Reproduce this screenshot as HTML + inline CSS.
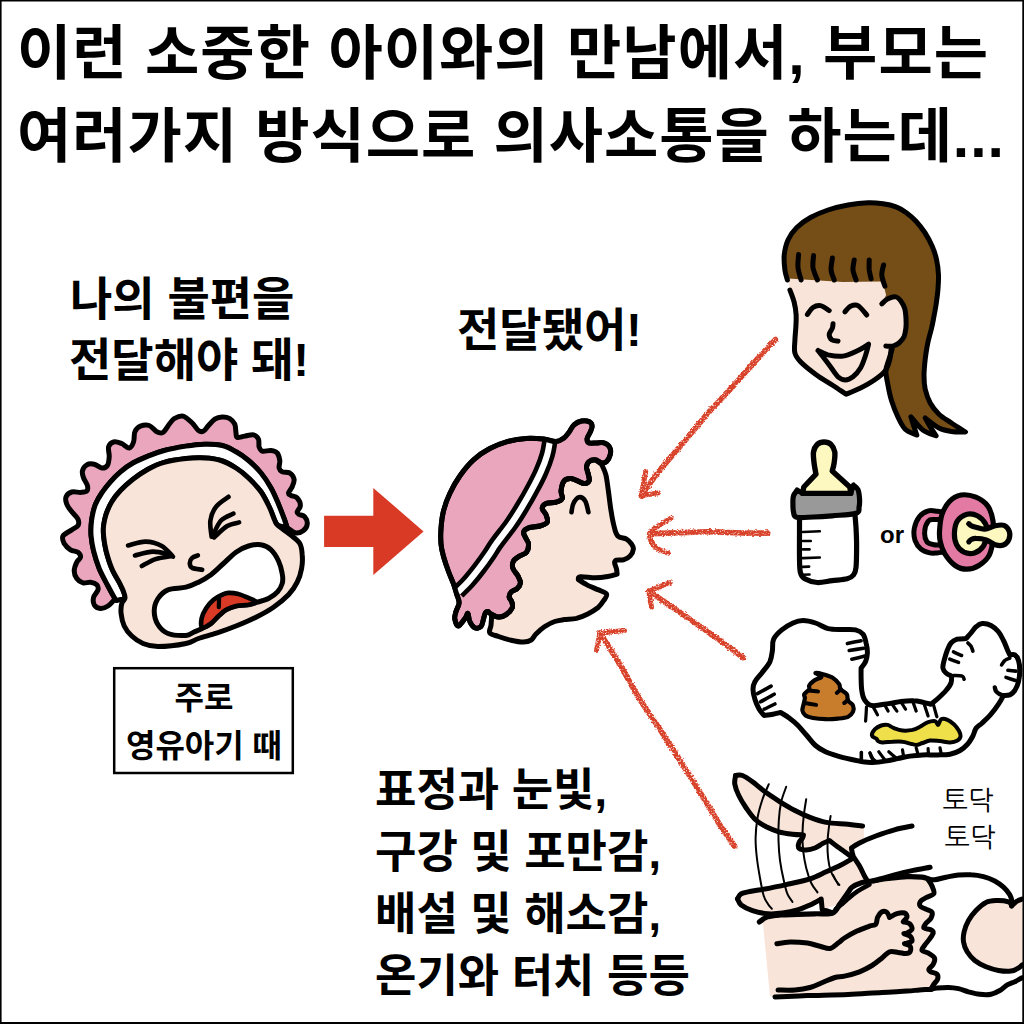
<!DOCTYPE html>
<html><head><meta charset="utf-8"><title>comic</title>
<style>html,body{margin:0;padding:0;background:#fff;overflow:hidden;width:1024px;height:1024px;font-family:"Liberation Sans",sans-serif}svg{display:block}</style>
</head><body>
<svg width="1024" height="1024" viewBox="0 0 1024 1024">
<title>이런 소중한 아이와의 만남에서, 부모는 여러가지 방식으로 의사소통을 하는데...</title><desc>나의 불편을 전달해야 돼! / 전달됐어! / 주로 영유아기 때 / 표정과 눈빛, 구강 및 포만감, 배설 및 해소감, 온기와 터치 등등 / or / 토닥 토닥</desc>
<rect width="1024" height="1024" fill="#fff"/>
<path d="M0 0H1024V1024H0Z M1.6 1.6V1022H1022.3V1.6Z" fill="#000" fill-rule="evenodd"/>
<rect x="114.2" y="668.2" width="178.6" height="104.8" fill="#fff" stroke="#000" stroke-width="2.5"/>
<path d="M114.2 599.8C113.2 600.8 110.3 604.5 108 606C105.7 607.5 102.8 608.7 100.5 608.5C98.2 608.3 95.4 606.6 94.2 604.8C93.1 602.9 93 599.8 93.6 597.2C94.2 594.8 97.5 591.8 98 589.8C98.5 587.7 98 586 96.8 584.8C95.5 583.5 92.8 582.6 90.5 582.2C88.2 581.9 85.3 583.5 83 582.9C80.7 582.2 78.2 580.5 76.8 578.5C75.3 576.5 74.2 573.7 74.2 571C74.2 568.3 75.7 564.5 76.8 562.2C77.8 560 80.3 558.9 80.5 557.2C80.7 555.6 79.7 553.5 78 552.2C76.3 551 72.8 551.2 70.5 549.8C68.2 548.3 65.5 545.8 64.2 543.5C63 541.2 61.8 538.3 63 536C64.2 533.7 69.2 531.6 71.8 529.9C74.2 528.1 77 527.3 78 525.5C79 523.7 79 521.5 78 519.2C77 517 73.6 514.2 71.8 511.8C69.9 509.2 67.7 506.8 66.8 504.2C65.8 501.8 65.3 498.8 66.1 496.8C67 494.7 69.4 492.7 71.8 492C74.1 491.3 78 492.5 80.5 492.4C83 492.2 85.6 492.3 86.8 491.1C87.9 490 87.9 487.7 87.4 485.5C86.9 483.3 84.5 480.4 83.6 478C82.8 475.6 81.9 473.3 82.4 471.1C82.9 468.9 84.8 466 86.8 464.9C88.7 463.7 91.8 463.7 94.2 464.2C96.8 464.8 99.6 467.8 101.8 468C103.9 468.2 106.1 467.4 107.4 465.5C108.6 463.6 109 459.9 109.2 456.8C109.5 453.6 107.8 449.2 108.6 446.8C109.5 444.2 112.1 442.3 114.2 441.8C116.4 441.2 119.2 442.6 121.8 443.6C124.2 444.7 127.3 448.3 129.2 448C131.2 447.7 132.7 444.5 133.6 441.8C134.6 439 133.7 434.4 134.9 431.8C136 429.1 138.1 427.2 140.5 426.1C142.9 425.1 146.5 424.6 149.2 425.5C152 426.4 154.5 430.6 156.8 431.8C159 432.9 160.9 433.6 163 432.4C165.1 431.1 167.4 426.5 169.2 424.2C171.1 422 172 420 174.2 418.6C176.5 417.3 180 415.4 183 416.1C186 416.9 189.7 420.6 192.2 423C194.8 425.4 196.6 429.1 198.5 430.5C200.4 431.9 201.8 432 203.5 431.1C205.2 430.3 206.6 427.5 208.5 425.5C210.4 423.5 212.5 420.7 214.8 419.2C217 417.8 219.8 417.1 222.2 417C224.8 416.9 227.7 417.4 229.8 418.6C231.8 419.8 233.7 421.9 234.8 424.2C235.8 426.6 235.6 430.8 236 433C236.4 435.2 235.8 436.9 237.2 437.4C238.7 437.9 242 436.5 244.8 436.1C247.5 435.7 251.2 434.4 253.5 434.9C255.8 435.4 257.6 437.3 258.5 439.2C259.4 441.2 258.5 444.8 259.1 446.8C259.8 448.7 260.3 450.5 262.2 451.1C264.2 451.8 268.5 450.2 271 450.5C273.5 450.8 275.8 451.3 277.2 453C278.7 454.7 279.4 458 279.8 460.5C280.1 463 278.7 466.1 279.1 468C279.5 469.9 280.5 470.9 282.2 471.8C284 472.6 287.8 471.8 289.8 473C291.7 474.2 293.7 477 294.1 479.2C294.5 481.5 293.2 484.5 292.2 486.8C291.3 489 288.7 491.5 288.5 493C288.3 494.5 289.5 494.7 291 495.5C292.5 496.3 295.7 496.3 297.2 498C298.8 499.7 300.4 503.2 300.4 505.5C300.4 507.8 297.6 510.3 297.2 511.8C296.9 513.2 297.2 513.4 298.5 514.2C299.8 515.1 303.3 515.1 304.8 516.8C306.2 518.4 307.5 522 307.2 524.2C307 526.5 305.4 529 303.5 530.5C301.6 532 298.5 533.3 296 533C293.5 532.7 289.8 529.4 288.5 528.6L287.2 528C286.8 526.8 286.2 524.5 284.8 520.5C283.3 516.5 280.8 509.7 278.5 504.2C276.2 498.8 273.9 493.2 271 488C268.1 482.8 264.8 477.6 261 473C257.2 468.4 252.7 464 248.5 460.5C244.3 457 240.4 454.2 236 451.8C231.6 449.2 227.5 446.8 222.2 445.5C217 444.2 210.8 444.1 204.8 444.2C198.7 444.4 192.8 445.1 186 446.1C179.2 447.2 170.6 448.8 164.2 450.5C157.9 452.2 153.2 454 148 456.1C142.8 458.2 137.6 460.4 133 463C128.4 465.6 124.2 468.6 120.5 471.8C116.8 474.9 113.6 478.2 110.5 481.8C107.4 485.3 104.2 489.2 101.8 493C99.2 496.8 97.1 500.5 95.5 504.2C93.9 508 93.1 512 92.4 515.5C91.6 519 91.3 522.1 91.1 525.5C90.9 528.9 90.7 531.8 91.1 536C91.5 540.2 92.3 545.6 93.6 551C95 556.4 96.9 562.7 99.2 568.5C101.6 574.3 105.5 581.2 108 586C110.5 590.8 112.8 594.9 114.2 597.2C115.7 599.6 116.3 599.9 116.8 600.4Z" fill="#eaa6bd" stroke="#000" stroke-width="5" stroke-linecap="round" stroke-linejoin="round"/>
<path d="M116.8 600.4C116.3 599.9 115.7 599.6 114.2 597.2C112.8 594.9 110.5 590.8 108 586C105.5 581.2 101.6 574.3 99.2 568.5C96.9 562.7 95 556.4 93.6 551C92.3 545.6 91.5 540.2 91.1 536C90.7 531.8 90.9 528.9 91.1 525.5C91.3 522.1 91.6 519 92.4 515.5C93.1 512 93.9 508 95.5 504.2C97.1 500.5 99.2 496.8 101.8 493C104.2 489.2 107.4 485.3 110.5 481.8C113.6 478.2 116.8 474.9 120.5 471.8C124.2 468.6 128.4 465.6 133 463C137.6 460.4 142.8 458.2 148 456.1C153.2 454 157.9 452.2 164.2 450.5C170.6 448.8 179.2 447.2 186 446.1C192.8 445.1 198.7 444.4 204.8 444.2C210.8 444.1 217 444.2 222.2 445.5C227.5 446.8 231.6 449.2 236 451.8C240.4 454.2 244.3 457 248.5 460.5C252.7 464 257.2 468.4 261 473C264.8 477.6 268.1 482.8 271 488C273.9 493.2 276.2 498.8 278.5 504.2C280.8 509.7 283.3 516.5 284.8 520.5C286.2 524.5 286.8 526.8 287.2 528L277.9 525.5C277.4 524.7 276.1 523.4 274.8 520.5C273.4 517.6 272 512.8 269.8 508C267.5 503.2 264.5 496.8 261 491.8C257.5 486.8 252.7 482 248.5 478C244.3 474 240.6 470.9 236 468C231.4 465.1 226.2 462.2 221 460.5C215.8 458.8 210.6 458.3 204.8 458C198.9 457.7 192.8 457.9 186 458.6C179.2 459.4 170.6 460.6 164.2 462.4C157.9 464.1 153.2 466.4 148 469.2C142.8 472.1 137.6 475.7 133 479.2C128.4 482.8 124 486.8 120.5 490.5C117 494.2 114.1 497.8 111.8 501.8C109.4 505.7 107.5 510.3 106.1 514.2C104.8 518.2 104 521.9 103.6 525.5C103.2 529.1 103.2 531.8 103.6 536C104 540.2 104.8 545.6 106.1 551C107.5 556.4 109.4 562.9 111.8 568.5C114.1 574.1 118.4 580.6 120.5 584.8C122.6 588.9 123.5 591.2 124.2 593.5C125 595.8 124.8 597.7 124.9 598.5Z" fill="#fff" stroke="#000" stroke-width="5" stroke-linecap="round" stroke-linejoin="round"/>
<path d="M124.9 598.5C125.3 596.8 125 595.8 124.2 593.5C123.5 591.2 122.6 588.9 120.5 584.8C118.4 580.6 114.1 574.1 111.8 568.5C109.4 562.9 107.5 556.4 106.1 551C104.8 545.6 104 540.2 103.6 536C103.2 531.8 103.2 529.1 103.6 525.5C104 521.9 104.8 518.2 106.1 514.2C107.5 510.3 109.4 505.7 111.8 501.8C114.1 497.8 117 494.2 120.5 490.5C124 486.8 128.4 482.8 133 479.2C137.6 475.7 142.8 472.1 148 469.2C153.2 466.4 157.9 464.1 164.2 462.4C170.6 460.6 179.2 459.4 186 458.6C192.8 457.9 198.9 457.7 204.8 458C210.6 458.3 215.8 458.8 221 460.5C226.2 462.2 231.4 465.1 236 468C240.6 470.9 244.3 474 248.5 478C252.7 482 257.5 486.8 261 491.8C264.5 496.8 267.5 503.2 269.8 508C272 512.8 273.4 517.6 274.8 520.5C276.1 523.4 275.4 523.2 277.9 525.5C280.4 527.8 286.1 531.2 289.8 534.2C293.4 537.2 297.7 540.1 299.8 543.5C301.8 546.9 301.9 550.6 302.2 554.8C302.6 558.9 302.5 563.9 301.6 568.5C300.8 573.1 299.4 577.9 297.2 582.2C295.1 586.6 292.5 590.6 288.5 594.8C284.5 598.9 278.9 603.5 273.5 607.2C268.1 611 262.2 614.1 256 617.2C249.8 620.4 242.5 623.4 236 626C229.5 628.6 223.5 630.8 217.2 632.9C211 635 203.7 636.7 198.5 638.5C193.3 640.3 192.8 642.1 186 643.5C179.2 644.9 165.2 646.6 158 646.6C150.8 646.6 147.4 645.3 143 643.5C138.6 641.7 134.9 638.9 131.8 636C128.6 633.1 126 629.8 124.2 626C122.5 622.2 121.5 617.2 121.1 613.5C120.7 609.8 121.1 606 121.8 603.5C122.4 601 124.5 600.2 124.9 598.5Z" fill="#f9e4d9" stroke="#000" stroke-width="5" stroke-linecap="round" stroke-linejoin="round"/>
<path d="M168 589.8C172.7 587.9 180.9 588.5 186 587.2C191.1 586 194.3 584.3 198.5 582.2C202.7 580.2 206.8 577.9 211 574.8C215.2 571.6 219.3 567.2 223.5 563.5C227.7 559.8 231.8 555.2 236 552.2C240.2 549.3 244.3 547.2 248.5 546C252.7 544.8 257.2 544.1 261 544.8C264.8 545.4 268.1 547 271 549.8C273.9 552.5 276.6 557 278.5 561C280.4 565 281.6 569.8 282.2 573.5C282.9 577.2 283.1 580.4 282.2 583.5C281.4 586.6 279.5 589.8 277.2 592.2C275 594.8 271.8 596.8 268.5 598.5C265.2 600.2 260.6 601.2 257.2 602.2C253.9 603.3 252 604.1 248.5 604.8C245 605.4 239.8 605.2 236 606C232.2 606.8 228.9 608.1 226 609.8C223.1 611.4 221 613.7 218.5 616C216 618.3 213.7 621.4 211 623.5C208.3 625.6 205.2 627 202.2 628.5C199.3 630 196.2 631.1 193.5 632.2C190.8 633.4 190.2 635.2 186 635.4C181.8 635.6 172.7 635.3 168 633.5C163.3 631.7 160.3 628.5 158 624.8C155.7 621 154.2 615.4 154.2 611C154.2 606.6 155.7 602 158 598.5C160.3 595 163.3 591.6 168 589.8Z" fill="#fff" stroke="#000" stroke-width="5" stroke-linecap="round" stroke-linejoin="round"/>
<path d="M202.2 627.2C200.7 626.4 201 621.6 201.6 618.5C202.2 615.4 204 611.6 206 608.5C208 605.4 210.8 602 213.5 599.8C216.2 597.5 219.8 595.9 222.2 594.8C224.8 593.6 225.8 593 228.5 592.9C231.2 592.8 235.2 593.3 238.5 594.1C241.8 595 245.5 596.6 248.5 597.9C251.5 599.2 256.6 600.9 256.6 602C256.6 603.1 251.9 604.1 248.5 604.8C245.1 605.4 239.8 605.2 236 606C232.2 606.8 228.9 608.1 226 609.8C223.1 611.4 221 613.7 218.5 616C216 618.3 213.7 621.6 211 623.5C208.3 625.4 203.8 628.1 202.2 627.2Z" fill="#d93a26" stroke="#000" stroke-width="4.6" stroke-linecap="round" stroke-linejoin="round"/>
<path d="M219.1 597.2C219.1 598.9 218.8 605.6 218.8 607.2" fill="none" stroke="#000" stroke-width="4.2" stroke-linecap="round" stroke-linejoin="round"/>
<path d="M197.9 555.4C196.9 555.8 193.6 556.6 192.2 557.9C190.9 559.1 189.8 561.2 189.8 562.9C189.8 564.5 190.2 566.7 192.2 567.9C194.3 569 200.6 569.4 202.2 569.8" fill="none" stroke="#000" stroke-width="4.6" stroke-linecap="round" stroke-linejoin="round"/>
<path d="M228.5 496.8C226.4 498.4 219 502.8 216 506.8C213 510.7 211.1 515.5 210.4 520.5C209.6 525.5 211.4 534 211.6 536.8" fill="none" stroke="#000" stroke-width="4.6" stroke-linecap="round" stroke-linejoin="round"/>
<path d="M233.5 513.6C231.4 514.8 224.4 516.9 221 520.5C217.6 524.1 214.2 533 212.9 535.5" fill="none" stroke="#000" stroke-width="4.6" stroke-linecap="round" stroke-linejoin="round"/>
<path d="M239.1 522.4C237.1 523 231.4 523.6 227.2 526.1C223.1 528.6 216.3 535.5 214.1 537.4" fill="none" stroke="#000" stroke-width="4.6" stroke-linecap="round" stroke-linejoin="round"/>
<path d="M128 545.4C130.9 544.8 139.9 541.5 145.5 541.6C151.1 541.7 157.2 543.5 161.8 546C166.3 548.5 171.1 554.9 173 556.6" fill="none" stroke="#000" stroke-width="4.6" stroke-linecap="round" stroke-linejoin="round"/>
<path d="M134.9 555.4C137.9 554.8 147.2 551.8 153 551.6C158.8 551.5 167.1 554 169.9 554.5" fill="none" stroke="#000" stroke-width="4.6" stroke-linecap="round" stroke-linejoin="round"/>
<path d="M141.8 566C144 564.9 150.5 560.8 155.5 559.1C160.5 557.5 169 556.5 171.8 556" fill="none" stroke="#000" stroke-width="4.6" stroke-linecap="round" stroke-linejoin="round"/>
<path d="M324.1 515.8H373.3V488L423.6 531.4L373.3 575.1V547H324.1Z" fill="#d93a26"/>
<path d="M491 614C492.2 614.5 496 617 498.5 617.1C501 617.2 503.7 616.2 506 614.6C508.3 613.1 511.3 609.9 512.2 607.8C513.2 605.6 512.1 603.3 511.6 601.5C511.1 599.7 509.2 598.7 509.1 597.1C509 595.6 509.6 593.6 511 592.1C512.4 590.7 515.7 589.9 517.2 588.4C518.8 586.8 520.3 584.8 520.4 582.8C520.5 580.7 519.1 578.3 517.9 575.9C516.6 573.5 513.6 570.9 512.9 568.4C512.1 565.9 512.4 563 513.5 560.9C514.6 558.8 517.6 557.3 519.8 555.9C521.9 554.4 525.2 554.1 526.6 552.1C528.1 550.1 528.6 546.3 528.5 544C528.4 541.7 526.8 540.5 526 538.5C525.2 536.5 523.1 534 523.5 532.2C523.9 530.5 525.8 528.9 528.5 527.9C531.2 526.8 536.6 526.9 539.8 526C542.9 525.1 546.2 524.1 547.2 522.2C548.3 520.4 546.8 517 546 514.8C545.2 512.5 542.2 510.4 542.2 508.5C542.2 506.6 543.7 504.5 546 503.5C548.3 502.5 553.3 503.1 556 502.2C558.7 501.4 561.4 500.4 562.2 498.5C563.1 496.6 560.7 493.9 561 491C561.3 488.1 562.5 483.1 564 481C565.5 478.9 568.2 478.6 570.2 478.5C572.3 478.4 574.2 479.5 576.5 480.4C578.8 481.2 581.9 483.4 584 483.5C586.1 483.6 588.3 482.5 589 481C589.7 479.5 588.8 477 588.4 474.8C588 472.5 586.4 469.4 586.5 467.2C586.6 465.1 587.5 462.9 589 461.6C590.5 460.4 594.2 460.1 595.2 459.8L601.5 464.1C602.2 465.9 604.7 470.3 605.9 474.8C607 479.2 607.5 485.2 608.4 491C609.2 496.8 609.9 503.9 610.9 509.8C611.8 515.6 612.9 521.6 614 526C615.1 530.4 615.7 533.8 617.8 536C619.8 538.2 624.2 537.8 626.5 539.1C628.8 540.5 630.4 542.4 631.5 544C632.6 545.6 633.6 547 633.4 549C633.2 551 631.8 554.1 630.2 555.9C628.7 557.6 626.3 558.9 624 559.6C621.7 560.4 618.1 559.7 616.5 560.2C614.9 560.8 614.6 561.3 614.6 562.8C614.6 564.2 616.1 567.1 616.5 569C616.9 570.9 617 573.2 617.1 574L617.1 574C615.6 574.4 611.4 575.9 607.8 576.5C604.1 577.1 599.8 577.7 595.2 577.8C590.7 577.8 583.1 576.4 580.2 576.8C577.4 577.1 578.7 579.1 578.4 579.6L578.4 579.6C579.7 580.5 583.3 583 586.5 584.6C589.7 586.3 594.4 588.1 597.8 589.6C601.1 591.2 605.5 592.2 606.5 594C607.5 595.8 605.5 598 604 600.2C602.5 602.5 600.5 605.5 597.8 607.8C595 610 591.3 612.2 587.8 614C584.2 615.8 580.5 617.4 576.5 618.4C572.5 619.3 567.6 619.1 564 619.6C560.4 620.1 558 620.4 554.8 621.5C551.5 622.6 547.9 624.4 544.8 626.5C541.6 628.6 538.3 631.7 536 634C533.7 636.3 533.1 638.9 531 640.2C528.9 641.6 526.8 642.1 523.5 642.1C520.2 642.1 515.2 641.2 511 640.2C506.8 639.3 502 637.8 498.5 636.5C495 635.2 491 634.6 489.8 632.8C488.5 630.9 490.7 628 491 625.2C491.3 622.5 491.5 618 491.6 616.5Z" fill="#f9e4d9" stroke="#000" stroke-width="5" stroke-linecap="round" stroke-linejoin="round"/>
<path d="M459.1 602.8C459.2 599.8 457.6 597.1 456.6 594C455.7 590.9 454.9 587.8 453.5 584C452.1 580.2 450.2 576.1 448.5 571.5C446.8 566.9 444.8 561.1 443.5 556.5C442.2 551.9 441.4 548.7 441 544C440.6 539.3 440.6 534 441 528.5C441.4 523 442 516.8 443.5 511C445 505.2 447 499.3 449.8 493.5C452.5 487.7 455.8 481.6 459.8 476C463.7 470.4 468.5 464.3 473.5 459.8C478.5 455.2 484.1 451.5 489.8 448.5C495.4 445.5 501.2 443.3 507.2 441.6C513.3 440 520 438.9 526 438.5C532 438.1 538.5 438.6 543.5 439.1C548.5 439.6 552.6 441.8 556 441.6C559.4 441.4 561.8 439.4 564 437.9C566.2 436.3 567.3 434.4 569 432.2C570.7 430.1 571.9 426.6 574 424.8C576.1 422.9 579 421.5 581.5 421C584 420.5 587.2 420.8 589 421.6C590.8 422.5 591.9 424.2 592.1 426C592.3 427.8 591.1 430.2 590.2 432.2C589.4 434.3 587.3 436.7 587.1 438.5C586.9 440.3 587.4 442.1 589 442.9C590.6 443.6 594 442.9 596.5 442.9C599 442.9 601.8 442.1 604 442.9C606.2 443.6 608.6 445.3 609.6 447.2C610.7 449.2 610.8 452.4 610.2 454.8C609.7 457.1 608 460.3 606.5 461.6C605 463 603.4 463.2 601.5 462.9C599.6 462.6 597.3 460 595.2 459.8C593.2 459.5 590.5 460.4 589 461.6C587.5 462.9 586.6 465.1 586.5 467.2C586.4 469.4 588 472.5 588.4 474.8C588.8 477 589.7 479.5 589 481C588.3 482.5 586.1 483.6 584 483.5C581.9 483.4 578.8 481.2 576.5 480.4C574.2 479.5 572.3 478.4 570.2 478.5C568.2 478.6 565.5 478.9 564 481C562.5 483.1 561.3 488.1 561 491C560.7 493.9 563.1 496.6 562.2 498.5C561.4 500.4 558.7 501.4 556 502.2C553.3 503.1 548.3 502.5 546 503.5C543.7 504.5 542.2 506.6 542.2 508.5C542.2 510.4 545.2 512.5 546 514.8C546.8 517 548.3 520.4 547.2 522.2C546.2 524.1 542.9 525.1 539.8 526C536.6 526.9 531.2 526.8 528.5 527.9C525.8 528.9 523.9 530.5 523.5 532.2C523.1 534 525.2 536.5 526 538.5C526.8 540.5 528.4 541.7 528.5 544C528.6 546.3 528.1 550.1 526.6 552.1C525.2 554.1 521.9 554.4 519.8 555.9C517.6 557.3 514.6 558.8 513.5 560.9C512.4 563 512.1 565.9 512.9 568.4C513.6 570.9 516.6 573.5 517.9 575.9C519.1 578.3 520.5 580.7 520.4 582.8C520.3 584.8 518.8 586.8 517.2 588.4C515.7 589.9 512.4 590.7 511 592.1C509.6 593.6 509 595.6 509.1 597.1C509.2 598.7 511.1 599.7 511.6 601.5C512.1 603.3 513.2 605.6 512.2 607.8C511.3 609.9 508.3 613.1 506 614.6C503.7 616.2 501 617.2 498.5 617.1C496 617 492.8 614.9 491 614C489.2 613.1 488.8 611.7 487.9 611.5C486.9 611.3 486.1 611.5 485.4 612.8C484.6 614 484.2 616.7 483.5 619C482.8 621.3 482.5 625 481 626.5C479.5 628 476.6 628.6 474.8 627.8C472.9 626.9 470.9 623.9 469.8 621.5C468.6 619.1 468.6 614 467.9 613.4C467.1 612.8 466.9 615.7 465.4 617.8C463.8 619.8 460.3 625.7 458.5 625.9C456.7 626.1 455.2 621.4 454.8 619C454.3 616.6 455.3 614.2 456 611.5C456.7 608.8 459 605.7 459.1 602.8Z" fill="#eaa6bd" stroke="#000" stroke-width="5" stroke-linecap="round" stroke-linejoin="round"/>
<clipPath id="hc"><path d="M459.1 602.8C459.2 599.8 457.6 597.1 456.6 594C455.7 590.9 454.9 587.8 453.5 584C452.1 580.2 450.2 576.1 448.5 571.5C446.8 566.9 444.8 561.1 443.5 556.5C442.2 551.9 441.4 548.7 441 544C440.6 539.3 440.6 534 441 528.5C441.4 523 442 516.8 443.5 511C445 505.2 447 499.3 449.8 493.5C452.5 487.7 455.8 481.6 459.8 476C463.7 470.4 468.5 464.3 473.5 459.8C478.5 455.2 484.1 451.5 489.8 448.5C495.4 445.5 501.2 443.3 507.2 441.6C513.3 440 520 438.9 526 438.5C532 438.1 538.5 438.6 543.5 439.1C548.5 439.6 552.6 441.8 556 441.6C559.4 441.4 561.8 439.4 564 437.9C566.2 436.3 567.3 434.4 569 432.2C570.7 430.1 571.9 426.6 574 424.8C576.1 422.9 579 421.5 581.5 421C584 420.5 587.2 420.8 589 421.6C590.8 422.5 591.9 424.2 592.1 426C592.3 427.8 591.1 430.2 590.2 432.2C589.4 434.3 587.3 436.7 587.1 438.5C586.9 440.3 587.4 442.1 589 442.9C590.6 443.6 594 442.9 596.5 442.9C599 442.9 601.8 442.1 604 442.9C606.2 443.6 608.6 445.3 609.6 447.2C610.7 449.2 610.8 452.4 610.2 454.8C609.7 457.1 608 460.3 606.5 461.6C605 463 603.4 463.2 601.5 462.9C599.6 462.6 597.3 460 595.2 459.8C593.2 459.5 590.5 460.4 589 461.6C587.5 462.9 586.6 465.1 586.5 467.2C586.4 469.4 588 472.5 588.4 474.8C588.8 477 589.7 479.5 589 481C588.3 482.5 586.1 483.6 584 483.5C581.9 483.4 578.8 481.2 576.5 480.4C574.2 479.5 572.3 478.4 570.2 478.5C568.2 478.6 565.5 478.9 564 481C562.5 483.1 561.3 488.1 561 491C560.7 493.9 563.1 496.6 562.2 498.5C561.4 500.4 558.7 501.4 556 502.2C553.3 503.1 548.3 502.5 546 503.5C543.7 504.5 542.2 506.6 542.2 508.5C542.2 510.4 545.2 512.5 546 514.8C546.8 517 548.3 520.4 547.2 522.2C546.2 524.1 542.9 525.1 539.8 526C536.6 526.9 531.2 526.8 528.5 527.9C525.8 528.9 523.9 530.5 523.5 532.2C523.1 534 525.2 536.5 526 538.5C526.8 540.5 528.4 541.7 528.5 544C528.6 546.3 528.1 550.1 526.6 552.1C525.2 554.1 521.9 554.4 519.8 555.9C517.6 557.3 514.6 558.8 513.5 560.9C512.4 563 512.1 565.9 512.9 568.4C513.6 570.9 516.6 573.5 517.9 575.9C519.1 578.3 520.5 580.7 520.4 582.8C520.3 584.8 518.8 586.8 517.2 588.4C515.7 589.9 512.4 590.7 511 592.1C509.6 593.6 509 595.6 509.1 597.1C509.2 598.7 511.1 599.7 511.6 601.5C512.1 603.3 513.2 605.6 512.2 607.8C511.3 609.9 508.3 613.1 506 614.6C503.7 616.2 501 617.2 498.5 617.1C496 617 492.8 614.9 491 614C489.2 613.1 488.8 611.7 487.9 611.5C486.9 611.3 486.1 611.5 485.4 612.8C484.6 614 484.2 616.7 483.5 619C482.8 621.3 482.5 625 481 626.5C479.5 628 476.6 628.6 474.8 627.8C472.9 626.9 470.9 623.9 469.8 621.5C468.6 619.1 468.6 614 467.9 613.4C467.1 612.8 466.9 615.7 465.4 617.8C463.8 619.8 460.3 625.7 458.5 625.9C456.7 626.1 455.2 621.4 454.8 619C454.3 616.6 455.3 614.2 456 611.5C456.7 608.8 459 605.7 459.1 602.8Z"/></clipPath>
<g clip-path="url(#hc)"><path d="M549.8 441.6C549.3 443.8 548.7 449.8 547.2 454.8C545.8 459.8 543.5 465.9 541 471.6C538.5 477.4 535.4 483.3 532.2 489.1C529.1 495 525.8 500.8 522.2 506.6C518.7 512.5 515.4 517.9 511 524.1C506.6 530.4 499.6 538.9 496 544C492.4 549.1 491.9 550.6 489.1 554.6C486.3 558.7 482.6 563.9 479.1 568.4C475.7 572.9 472 577.5 468.5 581.5C465 585.5 459.6 590.4 457.9 592.1" fill="none" stroke="#000" stroke-width="15.4"/><path d="M549.8 441.6C549.3 443.8 548.7 449.8 547.2 454.8C545.8 459.8 543.5 465.9 541 471.6C538.5 477.4 535.4 483.3 532.2 489.1C529.1 495 525.8 500.8 522.2 506.6C518.7 512.5 515.4 517.9 511 524.1C506.6 530.4 499.6 538.9 496 544C492.4 549.1 491.9 550.6 489.1 554.6C486.3 558.7 482.6 563.9 479.1 568.4C475.7 572.9 472 577.5 468.5 581.5C465 585.5 459.6 590.4 457.9 592.1" fill="none" stroke="#fff" stroke-width="6.2"/></g>
<path d="M459.1 602.8C459.2 599.8 457.6 597.1 456.6 594C455.7 590.9 454.9 587.8 453.5 584C452.1 580.2 450.2 576.1 448.5 571.5C446.8 566.9 444.8 561.1 443.5 556.5C442.2 551.9 441.4 548.7 441 544C440.6 539.3 440.6 534 441 528.5C441.4 523 442 516.8 443.5 511C445 505.2 447 499.3 449.8 493.5C452.5 487.7 455.8 481.6 459.8 476C463.7 470.4 468.5 464.3 473.5 459.8C478.5 455.2 484.1 451.5 489.8 448.5C495.4 445.5 501.2 443.3 507.2 441.6C513.3 440 520 438.9 526 438.5C532 438.1 538.5 438.6 543.5 439.1C548.5 439.6 552.6 441.8 556 441.6C559.4 441.4 561.8 439.4 564 437.9C566.2 436.3 567.3 434.4 569 432.2C570.7 430.1 571.9 426.6 574 424.8C576.1 422.9 579 421.5 581.5 421C584 420.5 587.2 420.8 589 421.6C590.8 422.5 591.9 424.2 592.1 426C592.3 427.8 591.1 430.2 590.2 432.2C589.4 434.3 587.3 436.7 587.1 438.5C586.9 440.3 587.4 442.1 589 442.9C590.6 443.6 594 442.9 596.5 442.9C599 442.9 601.8 442.1 604 442.9C606.2 443.6 608.6 445.3 609.6 447.2C610.7 449.2 610.8 452.4 610.2 454.8C609.7 457.1 608 460.3 606.5 461.6C605 463 603.4 463.2 601.5 462.9C599.6 462.6 597.3 460 595.2 459.8C593.2 459.5 590.5 460.4 589 461.6C587.5 462.9 586.6 465.1 586.5 467.2C586.4 469.4 588 472.5 588.4 474.8C588.8 477 589.7 479.5 589 481C588.3 482.5 586.1 483.6 584 483.5C581.9 483.4 578.8 481.2 576.5 480.4C574.2 479.5 572.3 478.4 570.2 478.5C568.2 478.6 565.5 478.9 564 481C562.5 483.1 561.3 488.1 561 491C560.7 493.9 563.1 496.6 562.2 498.5C561.4 500.4 558.7 501.4 556 502.2C553.3 503.1 548.3 502.5 546 503.5C543.7 504.5 542.2 506.6 542.2 508.5C542.2 510.4 545.2 512.5 546 514.8C546.8 517 548.3 520.4 547.2 522.2C546.2 524.1 542.9 525.1 539.8 526C536.6 526.9 531.2 526.8 528.5 527.9C525.8 528.9 523.9 530.5 523.5 532.2C523.1 534 525.2 536.5 526 538.5C526.8 540.5 528.4 541.7 528.5 544C528.6 546.3 528.1 550.1 526.6 552.1C525.2 554.1 521.9 554.4 519.8 555.9C517.6 557.3 514.6 558.8 513.5 560.9C512.4 563 512.1 565.9 512.9 568.4C513.6 570.9 516.6 573.5 517.9 575.9C519.1 578.3 520.5 580.7 520.4 582.8C520.3 584.8 518.8 586.8 517.2 588.4C515.7 589.9 512.4 590.7 511 592.1C509.6 593.6 509 595.6 509.1 597.1C509.2 598.7 511.1 599.7 511.6 601.5C512.1 603.3 513.2 605.6 512.2 607.8C511.3 609.9 508.3 613.1 506 614.6C503.7 616.2 501 617.2 498.5 617.1C496 617 492.8 614.9 491 614C489.2 613.1 488.8 611.7 487.9 611.5C486.9 611.3 486.1 611.5 485.4 612.8C484.6 614 484.2 616.7 483.5 619C482.8 621.3 482.5 625 481 626.5C479.5 628 476.6 628.6 474.8 627.8C472.9 626.9 470.9 623.9 469.8 621.5C468.6 619.1 468.6 614 467.9 613.4C467.1 612.8 466.9 615.7 465.4 617.8C463.8 619.8 460.3 625.7 458.5 625.9C456.7 626.1 455.2 621.4 454.8 619C454.3 616.6 455.3 614.2 456 611.5C456.7 608.8 459 605.7 459.1 602.8Z" fill="none" stroke="#000" stroke-width="5" stroke-linecap="round" stroke-linejoin="round"/>
<path d="M571.5 512.2C571.8 510.8 572.1 506 573.4 503.5C574.6 501 577 497.7 579 497.2C581 496.8 583.7 498.5 585.2 501C586.8 503.5 587.9 510.4 588.4 512.2" fill="none" stroke="#000" stroke-width="4.6" stroke-linecap="round" stroke-linejoin="round"/>
<filter id="cr" filterUnits="userSpaceOnUse" x="580" y="320" width="220" height="540"><feTurbulence type="fractalNoise" baseFrequency="0.55 0.75" numOctaves="2" seed="7" result="n"/><feDisplacementMap in="SourceGraphic" in2="n" scale="3.4" xChannelSelector="R" yChannelSelector="G" result="d"/><feColorMatrix in="n" type="matrix" values="0 0 0 0 0  0 0 0 0 0  0 0 0 0 0  0 0 0 -3.4 2.9" result="m"/><feComposite in="d" in2="m" operator="in"/></filter>
<g filter="url(#cr)">
<path d="M775.5 339.5C772.6 342.6 764.8 350.6 758 358.1C751.1 365.6 743 375.1 734.5 384.5C726.1 393.8 716 404.1 707.2 414.1C698.4 424.1 689.9 434.8 681.8 444.4C673.7 454 665.1 463.4 658.4 472C651.6 480.5 644 491.8 641.2 495.8" fill="none" stroke="#d9432a" stroke-width="5.6" stroke-linecap="round" stroke-linejoin="round"/>
<path d="M645.7 471.4L641.2 495.8L658.4 492.9" fill="none" stroke="#d9432a" stroke-width="5.0" stroke-linecap="round" stroke-linejoin="round"/>
<path d="M767.7 533.1C762.5 533.1 746.6 533 736.5 532.7C726.4 532.5 717 531.8 707.2 531.8C697.4 531.8 687.5 532.4 677.9 532.7C668.3 533.1 654.3 533.5 649.6 533.7" fill="none" stroke="#d9432a" stroke-width="5.6" stroke-linecap="round" stroke-linejoin="round"/>
<path d="M671.1 518.1C668.9 519.4 661.9 523.3 658.4 525.9C654.8 528.5 650.2 530.3 649.6 533.7C648.9 537.1 651.4 543.2 654.5 546.4C657.5 549.7 665.8 552.1 668.1 553.2" fill="none" stroke="#d9432a" stroke-width="5.0" stroke-linecap="round" stroke-linejoin="round"/>
<path d="M743.3 657.7C739.6 655 728.5 646.7 720.9 641.1C713.2 635.6 705.6 630.2 697.4 624.5C689.3 618.8 680.2 612.5 672 607C663.9 601.4 652.5 593.9 648.6 591.3" fill="none" stroke="#d9432a" stroke-width="5.6" stroke-linecap="round" stroke-linejoin="round"/>
<path d="M670.1 582.5L648.6 591.3L651.5 607" fill="none" stroke="#d9432a" stroke-width="5.0" stroke-linecap="round" stroke-linejoin="round"/>
<path d="M734.7 846.3C732.4 842.9 725.4 833.6 720.7 826.3C716 819.1 712.9 813 706.6 802.9C700.4 792.7 691 777.7 683.2 765.4C675.3 753.1 667.1 740.4 659.7 729C652.3 717.7 645.3 708.1 638.6 697.4C632 686.6 626.3 675.3 619.9 664.5C613.4 653.8 603.3 638.2 599.9 632.9" fill="none" stroke="#d9432a" stroke-width="5.6" stroke-linecap="round" stroke-linejoin="round"/>
<path d="M624.5 630.6L599.9 632.9L596.4 650.5" fill="none" stroke="#d9432a" stroke-width="5.0" stroke-linecap="round" stroke-linejoin="round"/>
</g>
<path d="M787.4 280C787 278.3 785.4 274.2 784.9 270C784.4 265.8 783.7 260 784.2 255C784.8 250 785.9 244.6 788 240C790.1 235.4 793 231.2 796.8 227.5C800.5 223.8 805.3 220.4 810.5 217.5C815.7 214.6 821.8 212.1 828 210C834.2 207.9 841.3 206.2 848 205C854.7 203.8 862.2 203 868 202.8C873.8 202.5 878.3 203.1 883 203.8C887.7 204.4 892.2 205.4 896 206.9C899.8 208.3 902.7 210.1 906 212.5C909.3 214.9 912.9 217.9 916 221.2C919.1 224.6 922 228.3 924.8 232.5C927.5 236.7 930.3 241.7 932.2 246.2C934.2 250.8 935.6 255.2 936.6 260C937.7 264.8 938.3 270 938.5 275C938.7 280 938.3 285 937.9 290C937.5 295 936.7 300.2 936 305C935.3 309.8 934.2 314.9 933.5 318.8C932.8 322.6 932.6 324 931.6 328C930.7 332 928.8 337.8 927.8 343C926.7 348.2 925.9 353.8 925.2 359.2C924.6 364.7 924 370.5 924 375.5C924 380.5 924.2 384.7 925.2 389.2C926.3 393.8 928 398.8 930.2 403C932.5 407.2 935.5 410.9 939 414.2C942.5 417.6 947.1 420 951.5 423C955.9 426 963.2 430.5 965.5 432C963.2 431.9 955.9 432.2 951.5 431.5C947.1 430.8 943.4 430.2 939 428C934.6 425.8 927.5 419.7 925.2 418C926.1 419.5 928.4 423.8 930.2 426.8C932.1 429.7 935.1 434.2 936.1 435.8C933.9 434.8 927 433 922.8 429.9C918.5 426.7 912.9 418.9 910.9 416.8C911.4 418.4 913 423.7 914 426.8C915 429.8 916.3 433.7 916.8 435.1C914.8 434.1 908.4 432.3 905.2 429.2C902.1 426.2 900 421.5 897.8 416.8C895.5 412 893.2 405.9 891.5 400.5C889.8 395.1 888.7 389.2 887.8 384.2C886.8 379.2 885.7 374.7 885.9 370.5C886.1 366.3 888 362.8 889 359.2C890 355.7 891.6 350.9 892.1 349.2Z" fill="#744d17" stroke="none" stroke-width="5" stroke-linecap="round" stroke-linejoin="round"/>
<path d="M843 281.9L788 278.5L789.9 290C790.6 292.1 793.2 298.3 794.2 302.5C795.3 306.7 795.9 310.8 796.1 315C796.4 319.2 796 323.8 795.8 328C795.5 332.2 795 336.3 794.9 340.5C794.7 344.7 793.9 349.5 794.9 353C795.8 356.5 797.1 358.2 800.5 361.8C803.9 365.3 810.1 370.3 815.5 374.2C820.9 378.2 827.9 382.2 833 385.5C838.1 388.8 843.9 392.8 846.1 394.2C848.5 393.2 855.6 390.5 860.5 388C865.4 385.5 871.3 382.2 875.5 379.2C879.7 376.3 883.1 373.8 885.5 370.5C887.9 367.2 888.9 362.8 889.9 359.2C890.8 355.7 890.9 350.9 891.1 349.2L885.9 346.1C887 346.1 890.6 346.6 892.8 346.1C894.9 345.6 897.1 344.6 899 343C900.9 341.4 902.9 339.2 904 336.8C905.1 334.2 905.5 331 905.9 328C906.2 325 906.2 322 906 318.8C905.8 315.5 905.6 311.7 904.8 308.8C903.9 305.8 902.5 303.2 901 301.2C899.5 299.3 898.2 297.3 896 296.9C893.8 296.5 890.4 297.6 888 298.8C885.6 299.9 882.8 302.9 881.8 303.8L886.1 295L884.2 287.5L880.5 281.5Z" fill="#f9e4d9" stroke="none" stroke-width="5" stroke-linecap="round" stroke-linejoin="round"/>
<path d="M787.4 280C787 278.3 785.4 274.2 784.9 270C784.4 265.8 783.7 260 784.2 255C784.8 250 785.9 244.6 788 240C790.1 235.4 793 231.2 796.8 227.5C800.5 223.8 805.3 220.4 810.5 217.5C815.7 214.6 821.8 212.1 828 210C834.2 207.9 841.3 206.2 848 205C854.7 203.8 862.2 203 868 202.8C873.8 202.5 878.3 203.1 883 203.8C887.7 204.4 892.2 205.4 896 206.9C899.8 208.3 902.7 210.1 906 212.5C909.3 214.9 912.9 217.9 916 221.2C919.1 224.6 922 228.3 924.8 232.5C927.5 236.7 930.3 241.7 932.2 246.2C934.2 250.8 935.6 255.2 936.6 260C937.7 264.8 938.3 270 938.5 275C938.7 280 938.3 285 937.9 290C937.5 295 936.7 300.2 936 305C935.3 309.8 934.2 314.9 933.5 318.8C932.8 322.6 932.6 324 931.6 328C930.7 332 928.8 337.8 927.8 343C926.7 348.2 925.9 353.8 925.2 359.2C924.6 364.7 924 370.5 924 375.5C924 380.5 924.2 384.7 925.2 389.2C926.3 393.8 928 398.8 930.2 403C932.5 407.2 935.5 410.9 939 414.2C942.5 417.6 947.1 420 951.5 423C955.9 426 963.2 430.5 965.5 432C963.2 431.9 955.9 432.2 951.5 431.5C947.1 430.8 943.4 430.2 939 428C934.6 425.8 927.5 419.7 925.2 418C926.1 419.5 928.4 423.8 930.2 426.8C932.1 429.7 935.1 434.2 936.1 435.8C933.9 434.8 927 433 922.8 429.9C918.5 426.7 912.9 418.9 910.9 416.8C911.4 418.4 913 423.7 914 426.8C915 429.8 916.3 433.7 916.8 435.1C914.8 434.1 908.4 432.3 905.2 429.2C902.1 426.2 900 421.5 897.8 416.8C895.5 412 893.2 405.9 891.5 400.5C889.8 395.1 888.7 389.2 887.8 384.2C886.8 379.2 885.7 374.7 885.9 370.5C886.1 366.3 888 362.8 889 359.2C890 355.7 891.6 350.9 892.1 349.2" fill="none" stroke="#000" stroke-width="5" stroke-linecap="round" stroke-linejoin="round"/>
<path d="M789.9 290C790.6 292.1 793.2 298.3 794.2 302.5C795.3 306.7 795.9 310.8 796.1 315C796.4 319.2 796 323.8 795.8 328C795.5 332.2 795 336.3 794.9 340.5C794.7 344.7 793.9 349.5 794.9 353C795.8 356.5 797.1 358.2 800.5 361.8C803.9 365.3 810.1 370.3 815.5 374.2C820.9 378.2 827.9 382.2 833 385.5C838.1 388.8 843.9 392.8 846.1 394.2C848.5 393.2 855.6 390.5 860.5 388C865.4 385.5 871.3 382.2 875.5 379.2C879.7 376.3 883.1 373.8 885.5 370.5C887.9 367.2 888.9 362.8 889.9 359.2C890.8 355.7 890.9 350.9 891.1 349.2" fill="none" stroke="#000" stroke-width="5" stroke-linecap="round" stroke-linejoin="round"/>
<path d="M885.9 346.1C887 346.1 890.6 346.6 892.8 346.1C894.9 345.6 897.1 344.6 899 343C900.9 341.4 902.9 339.2 904 336.8C905.1 334.2 905.5 331 905.9 328C906.2 325 906.2 322 906 318.8C905.8 315.5 905.6 311.7 904.8 308.8C903.9 305.8 902.5 303.2 901 301.2C899.5 299.3 898.2 297.3 896 296.9C893.8 296.5 890.4 297.6 888 298.8C885.6 299.9 882.8 302.9 881.8 303.8" fill="none" stroke="#000" stroke-width="5" stroke-linecap="round" stroke-linejoin="round"/>
<path d="M798.6 254.4C798.5 256.6 797.6 263.2 798 267.5C798.4 271.8 800.6 277.9 801.1 280" fill="none" stroke="#000" stroke-width="5" stroke-linecap="round" stroke-linejoin="round"/>
<path d="M813.6 255.6C813.5 257.6 812.4 263.4 813 267.5C813.6 271.6 816.6 277.9 817.4 280" fill="none" stroke="#000" stroke-width="5" stroke-linecap="round" stroke-linejoin="round"/>
<path d="M832.4 258.1C832.2 260.1 830.8 266.4 831.1 270C831.4 273.6 833.7 278.3 834.2 280" fill="none" stroke="#000" stroke-width="5" stroke-linecap="round" stroke-linejoin="round"/>
<path d="M854.2 260C854 261.7 852.7 266.7 853 270C853.3 273.3 855.6 278.3 856.1 280" fill="none" stroke="#000" stroke-width="5" stroke-linecap="round" stroke-linejoin="round"/>
<path d="M869.2 260C869.2 261.7 868.9 266.9 869.2 270C869.6 273.1 870.8 277.3 871.1 278.8" fill="none" stroke="#000" stroke-width="5" stroke-linecap="round" stroke-linejoin="round"/>
<path d="M883.6 265C883.3 266.7 881.5 271.5 881.8 275C882 278.5 884.4 284.4 884.9 286.2" fill="none" stroke="#000" stroke-width="5" stroke-linecap="round" stroke-linejoin="round"/>
<path d="M807.4 314.4C808.3 313.2 810.8 309 813 307.5C815.2 306 817.8 305.1 820.5 305.6C823.2 306.1 827.8 309.8 829.2 310.6" fill="none" stroke="#000" stroke-width="5" stroke-linecap="round" stroke-linejoin="round"/>
<path d="M844.9 311.9C845.8 310.9 848.3 307.3 850.5 306.2C852.7 305.2 855.3 304.2 858 305.6C860.7 307.1 865.3 313.4 866.8 315" fill="none" stroke="#000" stroke-width="5" stroke-linecap="round" stroke-linejoin="round"/>
<path d="M833 323.8C832.9 324.5 833 326.2 832.4 328C831.8 329.8 829.4 332.3 829.2 334.2C829.1 336.2 830.3 338.7 831.8 339.9C833.2 341 837 340.9 838 341.1" fill="none" stroke="#000" stroke-width="5" stroke-linecap="round" stroke-linejoin="round"/>
<path d="M818 350.5C819.7 351.2 823.8 353.9 828 354.9C832.2 355.8 838 356.9 843 356.1C848 355.4 853.7 352.5 858 350.5C862.3 348.5 866.9 345.3 868.6 344.2C868.1 346.1 866.9 351.5 865.5 355.5C864.1 359.5 862.6 364.5 860.5 368C858.4 371.5 855.5 374.8 853 376.8C850.5 378.7 848 379.9 845.5 379.9C843 379.9 840.5 378.9 838 376.8C835.5 374.6 833 370.1 830.5 366.8C828 363.4 825.1 359.5 823 356.8C820.9 354 818.8 351.5 818 350.5" fill="none" stroke="#000" stroke-width="5" stroke-linecap="round" stroke-linejoin="round"/>
<path d="M799.5 514.5C799.5 517.5 799.5 525.3 799.5 532.5C799.5 539.7 799.4 550.8 799.5 557.5C799.6 564.2 799.5 569 800.4 572.5C801.2 576 801.9 577.1 804.8 578.8C807.6 580.4 812.7 582.2 817.2 582.5C821.8 582.8 827.2 581.2 832.2 580.6C837.2 580 843.7 579.7 847.2 578.8C850.8 577.8 852 576.9 853.5 575C855 573.1 855.5 572.5 856 567.5C856.5 562.5 856.6 551.7 856.6 545C856.6 538.3 856.3 532.8 856 527.5C855.7 522.2 855 515.6 854.8 513.2" fill="#fff" stroke="#000" stroke-width="5.2" stroke-linecap="round" stroke-linejoin="round"/>
<path d="M802.9 532L819.8 531.2" fill="none" stroke="#000" stroke-width="2.6" stroke-linecap="round" stroke-linejoin="round"/>
<path d="M802.9 541L810.8 541" fill="none" stroke="#000" stroke-width="2.6" stroke-linecap="round" stroke-linejoin="round"/>
<path d="M802.9 549.4L809.5 549.4" fill="none" stroke="#000" stroke-width="2.6" stroke-linecap="round" stroke-linejoin="round"/>
<path d="M802.9 558.1L819.8 557.5" fill="none" stroke="#000" stroke-width="2.6" stroke-linecap="round" stroke-linejoin="round"/>
<path d="M802.9 566.9L809.1 566.6" fill="none" stroke="#000" stroke-width="2.6" stroke-linecap="round" stroke-linejoin="round"/>
<path d="M802.9 574.8L809.5 574.5" fill="none" stroke="#000" stroke-width="2.6" stroke-linecap="round" stroke-linejoin="round"/>
<path d="M797.2 490.1C796.6 491.1 794.2 493.6 793.5 495.8C792.8 497.9 792.9 500.5 792.9 503.2C792.9 506 792.9 509.7 793.5 512C794.1 514.3 793.3 516.4 796.6 517.2C800 518.1 807.6 517.2 813.5 517C819.4 516.8 825.2 516.4 832.2 515.8C839.3 515.1 851.5 514.7 856 513.2C860.5 511.8 858.5 509.5 859.1 507C859.7 504.5 859.7 501.2 859.5 498.2C859.3 495.3 858.9 491.7 857.9 489.5C856.9 487.3 854.2 485.9 853.5 485.1L850.6 493.4L802.6 493.4Z" fill="#999999" stroke="#000" stroke-width="5.2" stroke-linecap="round" stroke-linejoin="round"/>
<path d="M802.6 493.4L803.8 487L816 474.2C815.7 472.4 814.5 467 814.1 463.2C813.7 459.5 813 455.1 813.5 452C814 448.9 815.5 446.2 817.2 444.5C819 442.8 821.8 442 824.1 442C826.4 442 829.2 442.8 831 444.5C832.8 446.2 834.2 448.9 834.8 452C835.3 455.1 834.5 460.1 834.1 463.2C833.7 466.4 832.6 469.7 832.2 471L832.2 471L849.8 487L850.9 493.4Z" fill="#fdf8bf" stroke="#000" stroke-width="5.4" stroke-linecap="round" stroke-linejoin="round"/>
<text x="892" y="543" font-size="24" font-weight="700" fill="#000" text-anchor="middle" font-family="&quot;Liberation Sans&quot;, sans-serif">or</text>
<path d="M943.3 512.1C942.3 512 939.8 511.5 937.3 511.3C934.8 511.1 931.4 510 928.4 510.9C925.4 511.8 921.9 513.6 919.5 516.5C917.2 519.5 915 524.4 914.3 528.4C913.6 532.4 913.9 536.8 915 540.3C916.2 543.7 918.5 547.1 921 549.2C923.5 551.3 927.2 552.3 929.9 552.9C932.6 553.5 935.1 553 937.3 552.9C939.5 552.8 942.3 552.3 943.3 552.2L941.8 544.7C940.5 544.7 936.8 545.2 934.3 544.7C931.9 544.2 928.5 544 926.9 541.8C925.3 539.5 924.4 534.8 924.7 531.4C924.9 527.9 926.8 523 928.4 521C930 519 932.1 519.7 934.3 519.5C936.6 519.3 940.5 519.5 941.8 519.5Z" fill="#e37aa4" stroke="#000" stroke-width="5" stroke-linecap="round" stroke-linejoin="round"/>
<path d="M939.5 531.4C939.8 526.9 940.2 520 941.8 515C943.4 510.1 946 505 949.2 501.7C952.4 498.3 956.6 495.8 961.1 495C965.5 494.3 971.5 495.4 975.9 497.2C980.4 499.1 984.9 502.2 987.8 506.1C990.6 510.1 992.1 515.5 993 521C993.8 526.4 993.6 533.1 993 538.8C992.4 544.5 991.6 550.7 989.3 555.1C986.9 559.6 982.6 563.2 978.9 565.5C975.2 567.9 971 569.2 967 569.2C963 569.2 958.8 568.1 955.1 565.5C951.4 562.9 947.2 557.6 944.7 553.6C942.3 549.7 941.1 545.5 940.3 541.8C939.4 538.1 939.3 535.8 939.5 531.4Z" fill="#e37aa4" stroke="#000" stroke-width="5.2" stroke-linecap="round" stroke-linejoin="round"/>
<path d="M954.4 533.6C954.5 529.6 955.2 524.2 957.4 521C959.5 517.8 963.7 515.2 967 514.3C970.3 513.4 974.3 514.2 977.4 515.8C980.5 517.4 983.9 520.9 985.6 524C987.2 527 987.4 530.6 987 534.3C986.7 538.1 985.4 543.1 983.3 546.2C981.2 549.3 977.6 551.9 974.4 552.9C971.2 553.9 967 553.5 964 552.2C961.1 550.8 958.2 547.8 956.6 544.7C955 541.6 954.3 537.6 954.4 533.6Z" fill="#fdf8bf" stroke="#000" stroke-width="5.2" stroke-linecap="round" stroke-linejoin="round"/>
<path d="M975.9 527.2C977.4 527.5 981.6 529.4 984.8 529.1C988 528.9 992 526.4 995.2 525.7C998.4 525.1 1001.8 524.5 1004.1 525.4C1006.5 526.4 1008.5 529 1009.3 531.4C1010.1 533.7 1009.8 537.3 1008.9 539.5C1007.9 541.8 1005.6 544.2 1003.4 545C1001.1 545.9 998 545.6 995.2 544.7C992.4 543.9 989.5 541 986.3 540C983.1 538.9 977.6 538.6 975.9 538.4Z" fill="#fdf8bf" stroke="none" stroke-width="5" stroke-linecap="round" stroke-linejoin="round"/>
<path d="M968.8 523.7C969.2 524 970 525.1 971.2 525.7C972.3 526.3 973.6 526.7 975.9 527.2C978.2 527.8 981.6 529.4 984.8 529.1C988 528.9 992 526.4 995.2 525.7C998.4 525.1 1001.8 524.5 1004.1 525.4C1006.5 526.4 1008.5 529 1009.3 531.4C1010.1 533.7 1009.8 537.3 1008.9 539.5C1007.9 541.8 1005.6 544.2 1003.4 545C1001.1 545.9 998 545.6 995.2 544.7C992.4 543.9 989.5 541 986.3 540C983.1 538.9 978.4 538.4 975.9 538.4C973.4 538.3 972.3 539 971.2 539.5C970 540.1 969.2 541.4 968.8 541.8" fill="none" stroke="#000" stroke-width="5.2" stroke-linecap="round" stroke-linejoin="round"/>
<path d="M764.2 715.5C763.4 714.5 760.8 712 759.2 709.2C757.7 706.5 755.9 702.6 754.9 699.2C753.8 695.9 753 692.2 753 689.2C753 686.3 753.4 684.5 754.9 681.8C756.3 679 759.2 676.3 761.8 673C764.2 669.7 768.1 665.5 769.9 661.8C771.6 658 771.8 654.2 772.4 650.5C773 646.8 772.1 642.7 773.6 639.2C775.2 635.8 778.5 632.6 781.8 629.9C785 627.2 789.5 624.6 793 623C796.5 621.4 799.2 620.5 803 620.5C806.8 620.5 811.3 621.6 815.5 623C819.7 624.4 823.4 627.5 828 628.6C832.6 629.7 838.4 629.3 843 629.5C847.6 629.7 852.2 629.1 855.5 629.9C858.8 630.7 861.2 632.1 863 634.2C864.8 636.4 865.4 639.9 866.1 643C866.9 646.1 867.5 649.9 867.4 653C867.3 656.1 866.5 659.2 865.5 661.8C864.5 664.2 861.9 667 861.1 668C861.1 669.7 861 674.2 861.1 678C861.2 681.8 861.2 687 861.8 690.5C862.3 694 862.6 696.8 864.2 699.2C865.9 701.8 867.7 704.8 871.8 705.5C875.8 706.2 883.6 704.3 888.5 703.6C893.4 703 896.8 702 901 701.5C905.2 701 909.8 700.6 913.5 700.8C917.2 700.9 920.6 701.8 923.5 702.4C926.4 703 929.8 703.9 931 704.2C932.2 703.2 936 700.3 938.5 698C941 695.7 943.9 693 946 690.5C948.1 688 950.1 685.4 951 683C951.9 680.6 951.5 677.3 951.6 676.1C950.7 675.6 947.5 674.4 946 673C944.5 671.6 943.2 670.1 942.9 668C942.6 665.9 943.4 663.4 944.1 660.5C944.9 657.6 946.1 653.4 947.2 650.5C948.4 647.6 949.3 644.9 951 643C952.7 641.1 954.8 640 957.2 639.2C959.8 638.5 964.5 638.7 966 638.6C966.8 637.7 969.3 635 971 633C972.7 631 974.1 628.3 976 626.8C977.9 625.2 979.8 623.8 982.2 623.6C984.8 623.4 988.3 624.1 991 625.5C993.7 626.9 996.4 629.2 998.5 631.8C1000.6 634.2 1002 637.6 1003.5 640.5C1005 643.4 1006.2 646.9 1007.2 649.2C1008.3 651.6 1009.3 653.9 1009.8 654.9C1010.6 654.9 1013.3 653.9 1014.8 654.9C1016.2 655.8 1017.7 657.9 1018.5 660.5C1019.3 663.1 1019.8 667 1019.8 670.5C1019.8 674 1019.3 678.4 1018.5 681.8C1017.7 685.1 1016.2 688.3 1014.8 690.5C1013.3 692.7 1011.6 694 1009.8 694.9C1007.9 695.7 1004.5 695.4 1003.5 695.5C1002.7 697 1000.6 701.1 998.5 704.2C996.4 707.4 993.7 711.1 991 714.2C988.3 717.4 984.7 720.7 982.2 723C979.8 725.3 977.9 725.7 976.2 728C974.6 730.3 974 734 972.5 736.8C971 739.5 969.6 742 967.5 744.2C965.4 746.5 962.9 748.8 960 750.5C957.1 752.2 953.8 753.5 950 754.2C946.2 755 942.1 754.8 937.5 754.9C932.9 755 927.1 754.7 922.5 754.9C917.9 755.1 914.2 755.5 910 756.1C905.8 756.8 901.7 757.8 897.5 758.6C893.3 759.5 889.2 760.5 885 761.1C880.8 761.8 876.2 762.3 872.5 762.4C868.8 762.5 866.7 762.3 863 761.8C859.3 761.2 854.7 760.2 850.5 759.2C846.3 758.3 842.2 757.4 838 756.1C833.8 754.9 829.2 753.5 825.5 751.8C821.8 750 818.6 748.2 815.5 745.5C812.4 742.8 809.7 738.8 806.8 735.5C803.8 732.2 800.9 728.4 798 725.5C795.1 722.6 792.2 720.2 789.2 718C786.3 715.8 782 713.3 780.5 712.4C779.2 712.7 775.7 713.7 773 714.2C770.3 714.8 765.7 715.3 764.2 715.5Z" fill="#fff" stroke="#000" stroke-width="5" stroke-linecap="round" stroke-linejoin="round"/>
<path d="M1003.5 695.5C1002.9 695.3 1001 695 999.8 694.2C998.5 693.5 996.8 692.3 996 691.1C995.2 690 995 688 994.8 687.4" fill="none" stroke="#000" stroke-width="4.4" stroke-linecap="round" stroke-linejoin="round"/>
<path d="M847.4 643.6C849.7 643.1 858.8 641.2 861.1 640.8" fill="none" stroke="#000" stroke-width="3.6" stroke-linecap="round" stroke-linejoin="round"/>
<path d="M849.2 650.5C851.6 650.1 861.2 648.6 863.6 648.2" fill="none" stroke="#000" stroke-width="3.6" stroke-linecap="round" stroke-linejoin="round"/>
<path d="M851.8 659.2C853.9 658.7 862.7 656.6 864.9 656.1" fill="none" stroke="#000" stroke-width="3.6" stroke-linecap="round" stroke-linejoin="round"/>
<path d="M757.4 693.6C759.7 692.4 768.8 687.4 771.1 686.1" fill="none" stroke="#000" stroke-width="3.6" stroke-linecap="round" stroke-linejoin="round"/>
<path d="M760.5 701.8C762.8 700.5 772 695.5 774.2 694.2" fill="none" stroke="#000" stroke-width="3.6" stroke-linecap="round" stroke-linejoin="round"/>
<path d="M764.2 709.2C766 708.4 773.1 704.9 774.9 704" fill="none" stroke="#000" stroke-width="3.6" stroke-linecap="round" stroke-linejoin="round"/>
<path d="M953.5 651.8C954.9 652.4 960.3 654.9 961.6 655.5" fill="none" stroke="#000" stroke-width="3.6" stroke-linecap="round" stroke-linejoin="round"/>
<path d="M949.8 659.2C951.2 659.8 957 661.9 958.5 662.4" fill="none" stroke="#000" stroke-width="3.6" stroke-linecap="round" stroke-linejoin="round"/>
<path d="M953.5 675.5C955 675.6 960.5 675.5 962.2 676.1C964 676.8 963.8 678.7 964.1 679.2" fill="none" stroke="#000" stroke-width="3.6" stroke-linecap="round" stroke-linejoin="round"/>
<path d="M967.9 643C968.4 643.5 970.2 644.8 971 646.1C971.8 647.5 972.6 650.3 972.9 651.1" fill="none" stroke="#000" stroke-width="3.6" stroke-linecap="round" stroke-linejoin="round"/>
<path d="M1001.6 664.9C1002.1 664.1 1003.4 661.6 1004.8 660.5C1006.1 659.4 1008.9 658.4 1009.8 658" fill="none" stroke="#000" stroke-width="3.6" stroke-linecap="round" stroke-linejoin="round"/>
<path d="M1007.9 670.2C1009.2 670.4 1014.6 671 1016 671.1" fill="none" stroke="#000" stroke-width="3.6" stroke-linecap="round" stroke-linejoin="round"/>
<path d="M1006 677.4C1007.6 677.9 1013.8 680 1015.4 680.5" fill="none" stroke="#000" stroke-width="3.6" stroke-linecap="round" stroke-linejoin="round"/>
<path d="M866.5 706.8C866.4 709.1 865.8 718.7 865.6 721.1" fill="none" stroke="#000" stroke-width="3.2" stroke-linecap="round" stroke-linejoin="round"/>
<path d="M873.1 706.8C873.9 708.1 876.8 713.5 877.5 714.9" fill="none" stroke="#000" stroke-width="3.2" stroke-linecap="round" stroke-linejoin="round"/>
<path d="M885 705.5C885.5 706.4 887.6 710.2 888.1 711.1" fill="none" stroke="#000" stroke-width="3.2" stroke-linecap="round" stroke-linejoin="round"/>
<path d="M891.9 703.6C892.7 704.9 896 709.9 896.9 711.1" fill="none" stroke="#000" stroke-width="3.2" stroke-linecap="round" stroke-linejoin="round"/>
<path d="M901.2 702.4C902 703.5 904.9 708.1 905.6 709.2" fill="none" stroke="#000" stroke-width="3.2" stroke-linecap="round" stroke-linejoin="round"/>
<path d="M913.1 702.4C913.6 703.8 915.7 709.7 916.2 711.1" fill="none" stroke="#000" stroke-width="3.2" stroke-linecap="round" stroke-linejoin="round"/>
<path d="M923.8 703C924.5 705.2 927.4 713.9 928.1 716.1" fill="none" stroke="#000" stroke-width="3.2" stroke-linecap="round" stroke-linejoin="round"/>
<path d="M933.1 703.6C933.8 705.8 936.2 714.6 936.9 716.8" fill="none" stroke="#000" stroke-width="3.2" stroke-linecap="round" stroke-linejoin="round"/>
<path d="M861.2 752.4C861.2 753.9 861.2 760.2 861.2 761.8" fill="none" stroke="#000" stroke-width="3.2" stroke-linecap="round" stroke-linejoin="round"/>
<path d="M870 753C870.7 754.4 873.3 759.8 874 761.1" fill="none" stroke="#000" stroke-width="3.2" stroke-linecap="round" stroke-linejoin="round"/>
<path d="M878.8 751.8C879.7 753 883.4 758 884.4 759.2" fill="none" stroke="#000" stroke-width="3.2" stroke-linecap="round" stroke-linejoin="round"/>
<path d="M888.8 751.8C890 752.8 895 757 896.2 758" fill="none" stroke="#000" stroke-width="3.2" stroke-linecap="round" stroke-linejoin="round"/>
<path d="M902.5 749.9C902.7 751.1 903.5 756.1 903.8 757.4" fill="none" stroke="#000" stroke-width="3.2" stroke-linecap="round" stroke-linejoin="round"/>
<path d="M916.2 748C916.6 749.1 917.8 753.7 918.1 754.9" fill="none" stroke="#000" stroke-width="3.2" stroke-linecap="round" stroke-linejoin="round"/>
<path d="M928.1 748.6C928.2 749.6 928.4 753.3 928.5 754.2" fill="none" stroke="#000" stroke-width="3.2" stroke-linecap="round" stroke-linejoin="round"/>
<path d="M940 747.8C940.2 748.8 941 753 941.2 754" fill="none" stroke="#000" stroke-width="3.2" stroke-linecap="round" stroke-linejoin="round"/>
<path d="M861.5 752.4C861.5 753.7 861.5 759.1 861.5 760.5" fill="none" stroke="#000" stroke-width="3.2" stroke-linecap="round" stroke-linejoin="round"/>
<path d="M869.9 753C870.2 753.8 870.9 756.8 871.8 758C872.6 759.2 874.4 760.1 874.9 760.5" fill="none" stroke="#000" stroke-width="3.2" stroke-linecap="round" stroke-linejoin="round"/>
<path d="M871.9 735.5C871.7 733.9 873.4 730.9 875 729.2C876.6 727.6 879.2 726.2 881.2 725.5C883.3 724.8 885.4 724.5 887.5 724.9C889.6 725.3 891.2 727.1 893.8 728C896.2 728.9 899.4 730.2 902.5 730.5C905.6 730.8 909.6 730.5 912.5 729.9C915.4 729.2 917.5 728 920 726.8C922.5 725.5 925 723.3 927.5 722.4C930 721.4 933.2 720.7 935 721.1C936.8 721.5 937.1 725.2 938.1 724.9C939.2 724.6 939.7 720.1 941.2 719.2C942.8 718.4 945.4 719 947.5 719.9C949.6 720.7 951.9 722.5 953.8 724.2C955.6 726 957.6 728.5 958.8 730.5C959.9 732.5 960.8 734.5 960.6 736.1C960.4 737.8 959.3 739.5 957.5 740.5C955.7 741.5 952.9 742.3 950 742.4C947.1 742.5 943.3 741.4 940 741.1C936.7 740.8 932.9 740.2 930 740.5C927.1 740.8 924.8 742.3 922.5 743C920.2 743.7 918.3 744.8 916.2 744.9C914.2 745 912.3 744.1 910 743.6C907.7 743.1 905.4 742.1 902.5 741.8C899.6 741.4 895.8 741.6 892.5 741.8C889.2 741.9 884.9 742.5 882.5 742.4C880.1 742.3 879.2 741.8 878.1 741.1C877.1 740.5 877.3 739.6 876.2 738.6C875.2 737.7 872.1 737.1 871.9 735.5Z" fill="#efe04a" stroke="#000" stroke-width="4" stroke-linecap="round" stroke-linejoin="round"/>
<path d="M815.5 673C816 672.8 820.1 673.4 823 674.2C825.9 675.1 830.3 676.3 833 678C835.7 679.7 838 682.4 839.2 684.2C840.5 686.1 839.2 687.6 840.5 689.2C841.8 690.9 845.5 692.4 846.8 694.2C848 696.1 847 698.6 848 700.5C849 702.4 852.2 703.6 853 705.5C853.8 707.4 853.8 709.9 853 711.8C852.2 713.6 850.5 715.6 848 716.8C845.5 717.9 841.8 718.2 838 718.6C834.2 719 829.7 719.4 825.5 719.2C821.3 719.1 816.3 718.6 813 718C809.7 717.4 807.3 716.8 805.5 715.5C803.7 714.2 802.7 712.4 802.4 710.5C802.1 708.6 803.2 706.3 803.6 704.2C804 702.2 804.8 699.7 804.9 698C805 696.3 803.5 695.7 804.2 694.2C805 692.8 808.4 690.7 809.2 689.2C810.1 687.8 808.4 687 809.2 685.5C810.1 684 812.3 681.9 814.2 680.5C816.2 679.1 820.2 678.2 821.1 677.4C822.1 676.5 820.8 676.2 819.9 675.5C818.9 674.8 815 673.2 815.5 673Z" fill="#c87d2d" stroke="#000" stroke-width="4.2" stroke-linecap="round" stroke-linejoin="round"/>
<path d="M809.2 690.5C810.7 690.7 816.5 691.3 818 691.5" fill="none" stroke="#000" stroke-width="4" stroke-linecap="round" stroke-linejoin="round"/>
<path d="M836.8 693C837.5 692.4 840.4 689.9 841.1 689.2" fill="none" stroke="#000" stroke-width="4" stroke-linecap="round" stroke-linejoin="round"/>
<path d="M804.9 703C806.8 703.3 814.2 704.6 816.1 704.9" fill="none" stroke="#000" stroke-width="4" stroke-linecap="round" stroke-linejoin="round"/>
<path d="M844.2 703C844.9 702.5 847.4 700.4 848 699.9" fill="none" stroke="#000" stroke-width="4" stroke-linecap="round" stroke-linejoin="round"/>
<path d="M770 996.2L762.5 918.8L767.5 916.9C769.6 916.6 775 915.4 780 915C785 914.6 791.7 914.6 797.5 914.4C803.3 914.2 809.2 914 815 913.8C820.8 913.5 828.3 914.8 832.5 913.1C836.7 911.5 837.4 907.2 840 903.8C842.6 900.3 846 895.2 848 892.5C850 889.8 849.9 888.9 852 887.2C854.1 885.6 858 883.8 860.8 882.9C863.5 881.9 867 881.8 868.2 881.6L868.2 881.6C871.6 881.1 881.8 879.3 888.2 878.5C894.7 877.7 901.4 876.8 907 876.6C912.6 876.4 918.4 876.8 922 877.2C925.6 877.7 927.7 878.8 928.9 879.1L928.2 879.8C928.9 880.8 931.1 883.7 932 886C932.9 888.3 934.7 891.6 933.9 893.5C933 895.4 929.2 896 927 897.2C924.8 898.5 921.9 899.5 920.8 901C919.6 902.5 919.3 904.6 920.1 906C921 907.4 923.8 908.1 925.8 909.1C927.7 910.2 931.2 910.7 932 912.2C932.8 913.8 931.8 916.6 930.8 918.5C929.7 920.4 926.9 921.9 925.8 923.5C924.6 925.1 923 926.8 923.9 927.9C924.7 928.9 929.2 928.9 930.8 929.8C932.3 930.6 933.5 931.3 933.2 932.9C933 934.4 931 937 929.5 939.1C928 941.2 925.8 943.6 924.5 945.5C923.2 947.4 921.4 949.2 922 950.5C922.6 951.8 926.2 951.8 928.2 953C930.3 954.2 933.7 956.1 934.5 958C935.3 959.9 934.2 962.4 933.2 964.2C932.3 966.1 929.3 968 928.9 969.2C928.5 970.5 929.4 970.9 930.8 971.8C932.1 972.6 935.9 973 937 974.2C938.1 975.5 938.1 977.6 937.6 979.2C937.1 980.9 935 982.5 933.9 984.2C932.7 986 931.3 988.6 930.8 989.5L930.8 989.2C928.9 989.4 923.5 989.6 919.5 989.9C915.5 990.2 913.2 990.7 907 991.1C900.8 991.5 891.8 991.8 882 992.4C872.2 992.9 860.4 993.8 848 994.4C835.6 994.9 819.7 995.2 807.5 995.6C795.3 996 780.4 996.7 775 996.9Z" fill="#f9e4d9" stroke="none" stroke-width="5" stroke-linecap="round" stroke-linejoin="round"/>
<path d="M1011.6 905.5C1011.1 904.9 1011.1 902.6 1008.5 901.8C1005.9 900.9 999.8 900.4 996 900.5C992.2 900.6 989.3 900.7 986 902.4C982.7 904 978.9 907.5 976 910.5C973.1 913.5 970.5 917 968.5 920.5C966.5 924 965 928.2 964.1 931.8C963.3 935.3 963 938.4 963.5 941.8C964 945.1 965.4 948.6 967.2 951.8C969.1 954.9 971.6 958 974.8 960.5C977.9 963 982 965.1 986 966.8C990 968.4 994.3 969.8 998.5 970.5C1002.7 971.2 1007.7 971.5 1011 971.1C1014.3 970.7 1016.6 969 1018.5 968C1020.4 967 1021.6 965.4 1022.2 964.9L1022.2 899L1016 901.8L1011.6 905.8Z" fill="#f9e4d9" stroke="none" stroke-width="5" stroke-linecap="round" stroke-linejoin="round"/>
<path d="M1011.6 905.5C1011.1 904.9 1011.1 902.6 1008.5 901.8C1005.9 900.9 999.8 900.4 996 900.5C992.2 900.6 989.3 900.7 986 902.4C982.7 904 978.9 907.5 976 910.5C973.1 913.5 970.5 917 968.5 920.5C966.5 924 965 928.2 964.1 931.8C963.3 935.3 963 938.4 963.5 941.8C964 945.1 965.4 948.6 967.2 951.8C969.1 954.9 971.6 958 974.8 960.5C977.9 963 982 965.1 986 966.8C990 968.4 994.3 969.8 998.5 970.5C1002.7 971.2 1007.7 971.5 1011 971.1C1014.3 970.7 1016.6 969 1018.5 968C1020.4 967 1021.6 965.4 1022.2 964.9" fill="none" stroke="#000" stroke-width="5" stroke-linecap="round" stroke-linejoin="round"/>
<path d="M1011.6 906.1C1012.4 905.4 1014.3 902.9 1016 901.8C1017.7 900.6 1021 899.5 1022 899" fill="none" stroke="#000" stroke-width="5" stroke-linecap="round" stroke-linejoin="round"/>
<path d="M928.5 879.1C929.5 879.2 931.8 880.1 934.8 879.8C937.7 879.4 942 878 946 877.2C950 876.5 954.3 875.4 958.5 875C962.7 874.6 966.8 874.5 971 874.8C975.2 875 979.5 875.6 983.5 876.6C987.5 877.7 991.4 879.2 994.8 881C998.1 882.8 1001 885 1003.5 887.2C1006 889.5 1008.3 892.2 1009.8 894.8C1011.2 897.2 1011.9 900.5 1012.2 902.2C1012.6 904 1011.7 904.9 1011.6 905.4" fill="none" stroke="#000" stroke-width="5" stroke-linecap="round" stroke-linejoin="round"/>
<path d="M931 989.2C932 989 934.3 988.3 937.2 988C940.2 987.7 945 987.3 948.5 987.4C952 987.5 955.2 987.9 958.5 988.6C961.8 989.4 965 990.8 968.5 991.8C972 992.7 976 993.8 979.8 994.2C983.5 994.7 987.7 994.9 991 994.2C994.3 993.6 997 992.1 999.8 990.5C1002.5 988.9 1004.8 986.3 1007.2 984.9C1009.8 983.4 1012.3 982.9 1014.8 981.8C1017.2 980.6 1020.8 978.4 1022 977.8" fill="none" stroke="#000" stroke-width="5" stroke-linecap="round" stroke-linejoin="round"/>
<path d="M737.5 898.8C738.1 897.9 739 895 741.2 893.8C743.5 892.5 746.5 892.2 751.2 891.2C756 890.3 763.5 889.4 770 888.1C776.5 886.9 783.3 885.3 790 883.8C796.7 882.2 804 880.8 810 878.8C816 876.8 821.2 874 826.2 871.8C831.2 869.5 836.4 867.3 840 865.5C843.6 863.7 845.9 862.3 848 861.1C850.1 860 851.9 858.9 852.6 858.5L853.2 856C854.3 857.7 857.6 862.7 859.5 866C861.4 869.3 863 873.3 864.5 876C866 878.7 867.6 881.2 868.2 882.2L868.2 881.6C867 881.8 863.5 881.9 860.8 882.9C858 883.8 854.1 885.6 852 887.2C849.9 888.9 850 889.8 848 892.5C846 895.2 841.3 901.9 840 903.8L822.2 909.8L821.2 899L821.2 899C819.4 900 814 903.2 810 905C806 906.8 802.1 908.6 797.5 910C792.9 911.4 787.5 912.5 782.5 913.1C777.5 913.8 772.5 914.2 767.5 913.8C762.5 913.3 756.9 912.1 752.5 910.6C748.1 909.2 743.8 907 741.2 905C738.8 903 738.1 899.8 737.5 898.8Z" fill="#f9e4d9" stroke="none" stroke-width="5" stroke-linecap="round" stroke-linejoin="round"/>
<path d="M809.4 909.8L819 904L819.4 910.2Z" fill="#fff" stroke="none" stroke-width="5" stroke-linecap="round" stroke-linejoin="round"/>
<path d="M844.5 896C844.5 895 846.8 894 848 892.5C849.2 891 849.9 888.9 852 887.2C854.1 885.6 858 883.8 860.8 882.9C863.5 881.9 866.8 881.4 868.2 881.6C869.7 881.9 871.4 882.8 869.5 884.5C867.6 886.2 860.5 889.3 857 891.6C853.5 894 850.3 897.8 848.2 898.5C846.2 899.2 844.5 897 844.5 896Z" fill="#fff" stroke="none" stroke-width="5" stroke-linecap="round" stroke-linejoin="round"/>
<path d="M735.6 775.5C736.8 775.5 739.7 774.5 742.5 775.5C745.3 776.5 748.8 779 752.5 781.8C756.2 784.5 760.4 788.4 765 791.8C769.6 795.1 775 798.6 780 801.8C785 804.9 790 807.9 795 810.5C800 813.1 804.8 815.4 810 817.4C815.2 819.4 819.9 821.2 826.2 822.4C832.6 823.5 841.9 823.6 848 824.2C854.1 824.9 860.2 825.7 862.6 826L863.9 826.6L863.9 841L851.4 847.9L852.6 857.9L852.6 857.9C851.9 857.3 850.5 856.1 848 854.2C845.5 852.4 840.6 849 837.5 846.8C834.4 844.5 830.7 841.5 829.4 840.5C828.2 841 824.9 842.4 822.5 843.6C820.1 844.9 817.7 847 815 848C812.3 849 808.9 849.8 806.2 849.9C803.6 850 800.6 849.8 799.4 848.6C798.1 847.5 798.2 844.8 798.8 843C799.3 841.2 801.7 839.4 802.5 838C803.3 836.6 803.3 835.4 803.5 834.9C801.7 834.8 796.6 834.8 792.5 834.2C788.4 833.7 783.1 833 778.8 831.8C774.4 830.5 770.2 828.8 766.2 826.8C762.3 824.7 758.3 822.4 755 819.2C751.7 816.1 749 812 746.2 808C743.5 804 740.7 799.5 738.8 795.5C736.8 791.5 735.3 787.6 734.8 784.2C734.2 780.9 735.5 777 735.6 775.5Z" fill="#f9e4d9" stroke="none" stroke-width="5" stroke-linecap="round" stroke-linejoin="round"/>
<path d="M759.4 921.9C760.7 921 764.1 918 767.5 916.9C770.9 915.7 775 915.4 780 915C785 914.6 791.7 914.6 797.5 914.4C803.3 914.2 809.2 914 815 913.8C820.8 913.5 828.3 914.8 832.5 913.1C836.7 911.5 837.4 907.2 840 903.8C842.6 900.3 846 895.2 848 892.5C850 889.8 849.9 888.9 852 887.2C854.1 885.6 858 883.8 860.8 882.9C863.5 881.9 867 881.8 868.2 881.6C871.6 881.1 881.8 879.3 888.2 878.5C894.7 877.7 901.4 876.8 907 876.6C912.6 876.4 918.4 876.8 922 877.2C925.6 877.7 927.7 878.8 928.9 879.1" fill="none" stroke="#000" stroke-width="5.2" stroke-linecap="round" stroke-linejoin="round"/>
<path d="M835.8 909.1C836.8 908.3 839.9 905.9 842 904.1C844.1 902.4 845.8 900.6 848.2 898.5C850.8 896.4 853.5 894 857 891.6C860.5 889.3 867.4 885.7 869.5 884.5" fill="none" stroke="#000" stroke-width="4.6" stroke-linecap="round" stroke-linejoin="round"/>
<path d="M775 996.9C780.4 996.7 795.3 996 807.5 995.6C819.7 995.2 835.6 994.9 848 994.4C860.4 993.8 872.2 992.9 882 992.4C891.8 991.8 900.8 991.5 907 991.1C913.2 990.7 915.5 990.2 919.5 989.9C923.5 989.6 928.9 989.4 930.8 989.2" fill="none" stroke="#000" stroke-width="5" stroke-linecap="round" stroke-linejoin="round"/>
<path d="M928.2 879.8C928.9 880.8 931.1 883.7 932 886C932.9 888.3 934.7 891.6 933.9 893.5C933 895.4 929.2 896 927 897.2C924.8 898.5 921.9 899.5 920.8 901C919.6 902.5 919.3 904.6 920.1 906C921 907.4 923.8 908.1 925.8 909.1C927.7 910.2 931.2 910.7 932 912.2C932.8 913.8 931.8 916.6 930.8 918.5C929.7 920.4 926.9 921.9 925.8 923.5C924.6 925.1 923 926.8 923.9 927.9C924.7 928.9 929.2 928.9 930.8 929.8C932.3 930.6 933.5 931.3 933.2 932.9C933 934.4 931 937 929.5 939.1C928 941.2 925.8 943.6 924.5 945.5C923.2 947.4 921.4 949.2 922 950.5C922.6 951.8 926.2 951.8 928.2 953C930.3 954.2 933.7 956.1 934.5 958C935.3 959.9 934.2 962.4 933.2 964.2C932.3 966.1 929.3 968 928.9 969.2C928.5 970.5 929.4 970.9 930.8 971.8C932.1 972.6 935.9 973 937 974.2C938.1 975.5 938.1 977.6 937.6 979.2C937.1 980.9 935 982.5 933.9 984.2C932.7 986 931.3 988.6 930.8 989.5" fill="none" stroke="#000" stroke-width="5" stroke-linecap="round" stroke-linejoin="round"/>
<path d="M737.5 898.8C738.1 897.9 739 895 741.2 893.8C743.5 892.5 746.5 892.2 751.2 891.2C756 890.3 763.5 889.4 770 888.1C776.5 886.9 783.3 885.3 790 883.8C796.7 882.2 804 880.8 810 878.8C816 876.8 821.2 874 826.2 871.8C831.2 869.5 836.4 867.3 840 865.5C843.6 863.7 845.9 862.3 848 861.1C850.1 860 851.9 858.9 852.6 858.5" fill="none" stroke="#000" stroke-width="5" stroke-linecap="round" stroke-linejoin="round"/>
<path d="M737.5 898.8C738.1 899.8 738.8 903 741.2 905C743.8 907 748.1 909.2 752.5 910.6C756.9 912.1 762.5 913.3 767.5 913.8C772.5 914.2 777.5 913.8 782.5 913.1C787.5 912.5 792.9 911.4 797.5 910C802.1 908.6 806 906.8 810 905C814 903.2 819.4 900 821.2 899L821.2 899L822.2 909.8C824 910.2 830.8 912.2 832.5 912.8" fill="none" stroke="#000" stroke-width="5" stroke-linecap="round" stroke-linejoin="round"/>
<path d="M735.6 775.5C736.8 775.5 739.7 774.5 742.5 775.5C745.3 776.5 748.8 779 752.5 781.8C756.2 784.5 760.4 788.4 765 791.8C769.6 795.1 775 798.6 780 801.8C785 804.9 790 807.9 795 810.5C800 813.1 804.8 815.4 810 817.4C815.2 819.4 819.9 821.2 826.2 822.4C832.6 823.5 841.9 823.6 848 824.2C854.1 824.9 860.2 825.7 862.6 826" fill="none" stroke="#000" stroke-width="5" stroke-linecap="round" stroke-linejoin="round"/>
<path d="M735.6 775.5C735.5 777 734.2 780.9 734.8 784.2C735.3 787.6 736.8 791.5 738.8 795.5C740.7 799.5 743.5 804 746.2 808C749 812 751.7 816.1 755 819.2C758.3 822.4 762.3 824.7 766.2 826.8C770.2 828.8 774.4 830.5 778.8 831.8C783.1 833 788.4 833.7 792.5 834.2C796.6 834.8 801.7 834.8 803.5 834.9C803.3 835.4 803.3 836.6 802.5 838C801.7 839.4 799.3 841.2 798.8 843C798.2 844.8 798.1 847.5 799.4 848.6C800.6 849.8 803.6 850 806.2 849.9C808.9 849.8 812.3 849 815 848C817.7 847 820.1 844.9 822.5 843.6C824.9 842.4 828.2 841 829.4 840.5C830.7 841.5 834.4 844.5 837.5 846.8C840.6 849 845.5 852.4 848 854.2C850.5 856.1 851.9 857.3 852.6 857.9" fill="none" stroke="#000" stroke-width="5" stroke-linecap="round" stroke-linejoin="round"/>
<path d="M912 826C909.1 826.6 900.5 828.1 894.5 829.8C888.5 831.4 881.6 833.8 875.8 836C869.9 838.2 863.6 840.9 859.5 842.9C855.4 844.9 852.7 847 851.4 847.9C851.7 849.2 851.9 853 853.2 856C854.6 859 857.6 862.7 859.5 866C861.4 869.3 863 873.3 864.5 876C866 878.7 867.6 881.2 868.2 882.2" fill="none" stroke="#000" stroke-width="5" stroke-linecap="round" stroke-linejoin="round"/>
<path d="M873.2 881C876.8 880 887.8 876.5 894.5 874.8C901.2 873 907.3 871.6 913.2 870.4C919.2 869.1 927.3 867.8 930.1 867.2" fill="none" stroke="#000" stroke-width="5" stroke-linecap="round" stroke-linejoin="round"/>
<path d="M776.9 943.8C779.1 943.4 784.9 942 790 941.9C795.1 941.8 802.5 942.4 807.5 943.1C812.5 943.9 816.2 945.4 820 946.2C823.8 947.1 826.9 949.1 830 948.5C833.1 947.9 836.3 944.2 838.8 942.5C841.2 940.8 841.5 939.9 844.5 938C847.5 936.1 852.8 933.1 857 931.1C861.2 929.1 866.4 927.3 869.5 926.1C872.6 925 874.4 925.7 875.8 924.2C877.1 922.8 876.6 919.5 877.6 917.4C878.7 915.3 880.4 912.6 882 911.8C883.6 910.9 885.8 911.4 887 912.4C888.2 913.3 889.1 916.5 889.5 917.4C890.8 916.8 894.5 914.4 897 913.6C899.5 912.9 902.8 912.5 904.5 913C906.2 913.5 907.2 915.3 907 916.8C906.8 918.2 903.9 920.9 903.2 921.8C904.3 922.1 908 922.4 909.5 923.6C911 924.9 912.4 927.7 912 929.2C911.6 930.8 908.4 932.3 907 933C905.6 933.7 904.4 933.5 903.9 933.6C904.9 934 908.8 934.9 910.1 936.1C911.5 937.4 912.5 940 912 941.1C911.5 942.3 908.2 942.6 907 943C905.8 943.4 904.9 943.5 904.5 943.6C905.4 944 909.2 944.8 910.1 946.1C911.1 947.5 910.9 950.5 910.1 951.8C909.4 953 907.7 953.5 905.8 953.6C903.8 953.7 901 952.7 898.2 952.4C895.5 952.1 892.2 950.8 889.5 951.8C886.8 952.7 884.9 955.7 882 958C879.1 960.3 875.8 963.2 872 965.5C868.2 967.8 864.1 970 859.5 971.8C854.9 973.5 848.6 975.2 844.5 976.1C840.4 977.1 838.7 976.4 835 977.5C831.3 978.6 826.7 980.8 822.5 982.5C818.3 984.2 814.6 986.2 810 987.5C805.4 988.8 800.3 989.6 795 990C789.7 990.4 780.9 990 778.1 990" fill="none" stroke="#000" stroke-width="5" stroke-linecap="round" stroke-linejoin="round"/>
<path d="M768.8 784.2C767.7 786.8 764.4 793.6 762.5 799.2C760.6 804.9 758.6 811.5 757.5 818C756.4 824.5 755.7 831.3 755.6 838C755.5 844.7 756.1 851.3 756.9 858C757.6 864.7 758.9 871.7 760 878C761.1 884.3 762.4 891.6 763.8 896C765.1 900.4 766.8 902.1 768.1 904.2C769.5 906.4 771.2 908 771.9 908.8" fill="none" stroke="#000" stroke-width="2" stroke-linecap="round" stroke-linejoin="round"/>
<path d="M786.2 786.8C785.4 789.2 782.5 796.1 781.2 801.8C780 807.4 779.2 814 778.8 820.5C778.3 827 778.3 833.8 778.5 840.5C778.7 847.2 779.1 853.8 780 860.5C780.9 867.2 782.5 874.9 783.8 880.5C785 886.1 786 890.7 787.5 894.2C789 897.8 791.7 900.6 792.5 901.9" fill="none" stroke="#000" stroke-width="2" stroke-linecap="round" stroke-linejoin="round"/>
<path d="M806.2 799.2C805.8 802 804.4 809.9 803.8 815.5C803.1 821.1 802.6 827.2 802.5 833C802.4 838.8 802.5 844.7 803.1 850.5C803.8 856.3 804.9 862.6 806.2 868C807.6 873.4 809.4 878.9 811.2 883C813.1 887.1 816.5 890.8 817.5 892.4" fill="none" stroke="#000" stroke-width="2" stroke-linecap="round" stroke-linejoin="round"/>
<path d="M830.6 816.1C830.3 818.1 829.3 823.5 828.8 828C828.2 832.5 827.6 838 827.5 843C827.4 848 827.6 853.4 828.1 858C828.6 862.6 829.5 867 830.6 870.5C831.8 874 833.5 876.9 835 879.2C836.5 881.6 838.6 883.9 839.4 884.9" fill="none" stroke="#000" stroke-width="2" stroke-linecap="round" stroke-linejoin="round"/>
<path d="M833.2 874.8L838.2 884.8" fill="none" stroke="#000" stroke-width="1.7" stroke-linecap="round" stroke-linejoin="round"/>
<g font-family="&quot;Liberation Sans&quot;, &quot;NanumGothic&quot;, &quot;Noto Sans CJK KR&quot;, sans-serif" font-size="27" fill="#000" text-anchor="middle">
<text x="968" y="810">토닥</text>
<text x="970" y="847">토닥</text>
</g>
<g font-family="&quot;Liberation Sans&quot;, &quot;Noto Sans CJK KR&quot;, sans-serif" font-weight="700" fill="#000">
<text x="17" y="74" font-size="59" textLength="971" lengthAdjust="spacing">이런 소중한 아이와의 만남에서, 부모는</text>
<text x="17" y="157" font-size="59" textLength="987" lengthAdjust="spacing">여러가지 방식으로 의사소통을 하는데...</text>
<text x="70" y="315" font-size="46">나의 불편을</text>
<text x="69" y="376" font-size="46">전달해야 돼!</text>
<text x="457" y="346" font-size="46">전달됐어!</text>
<text x="204" y="709" font-size="32" text-anchor="middle">주로</text>
<text x="204" y="757" font-size="32" text-anchor="middle">영유아기 때</text>
<text x="375" y="806" font-size="45">표정과 눈빛,</text>
<text x="375" y="868" font-size="45">구강 및 포만감,</text>
<text x="375" y="930" font-size="45">배설 및 해소감,</text>
<text x="375" y="992" font-size="45">온기와 터치 등등</text>
</g>
</svg>
</body></html>
